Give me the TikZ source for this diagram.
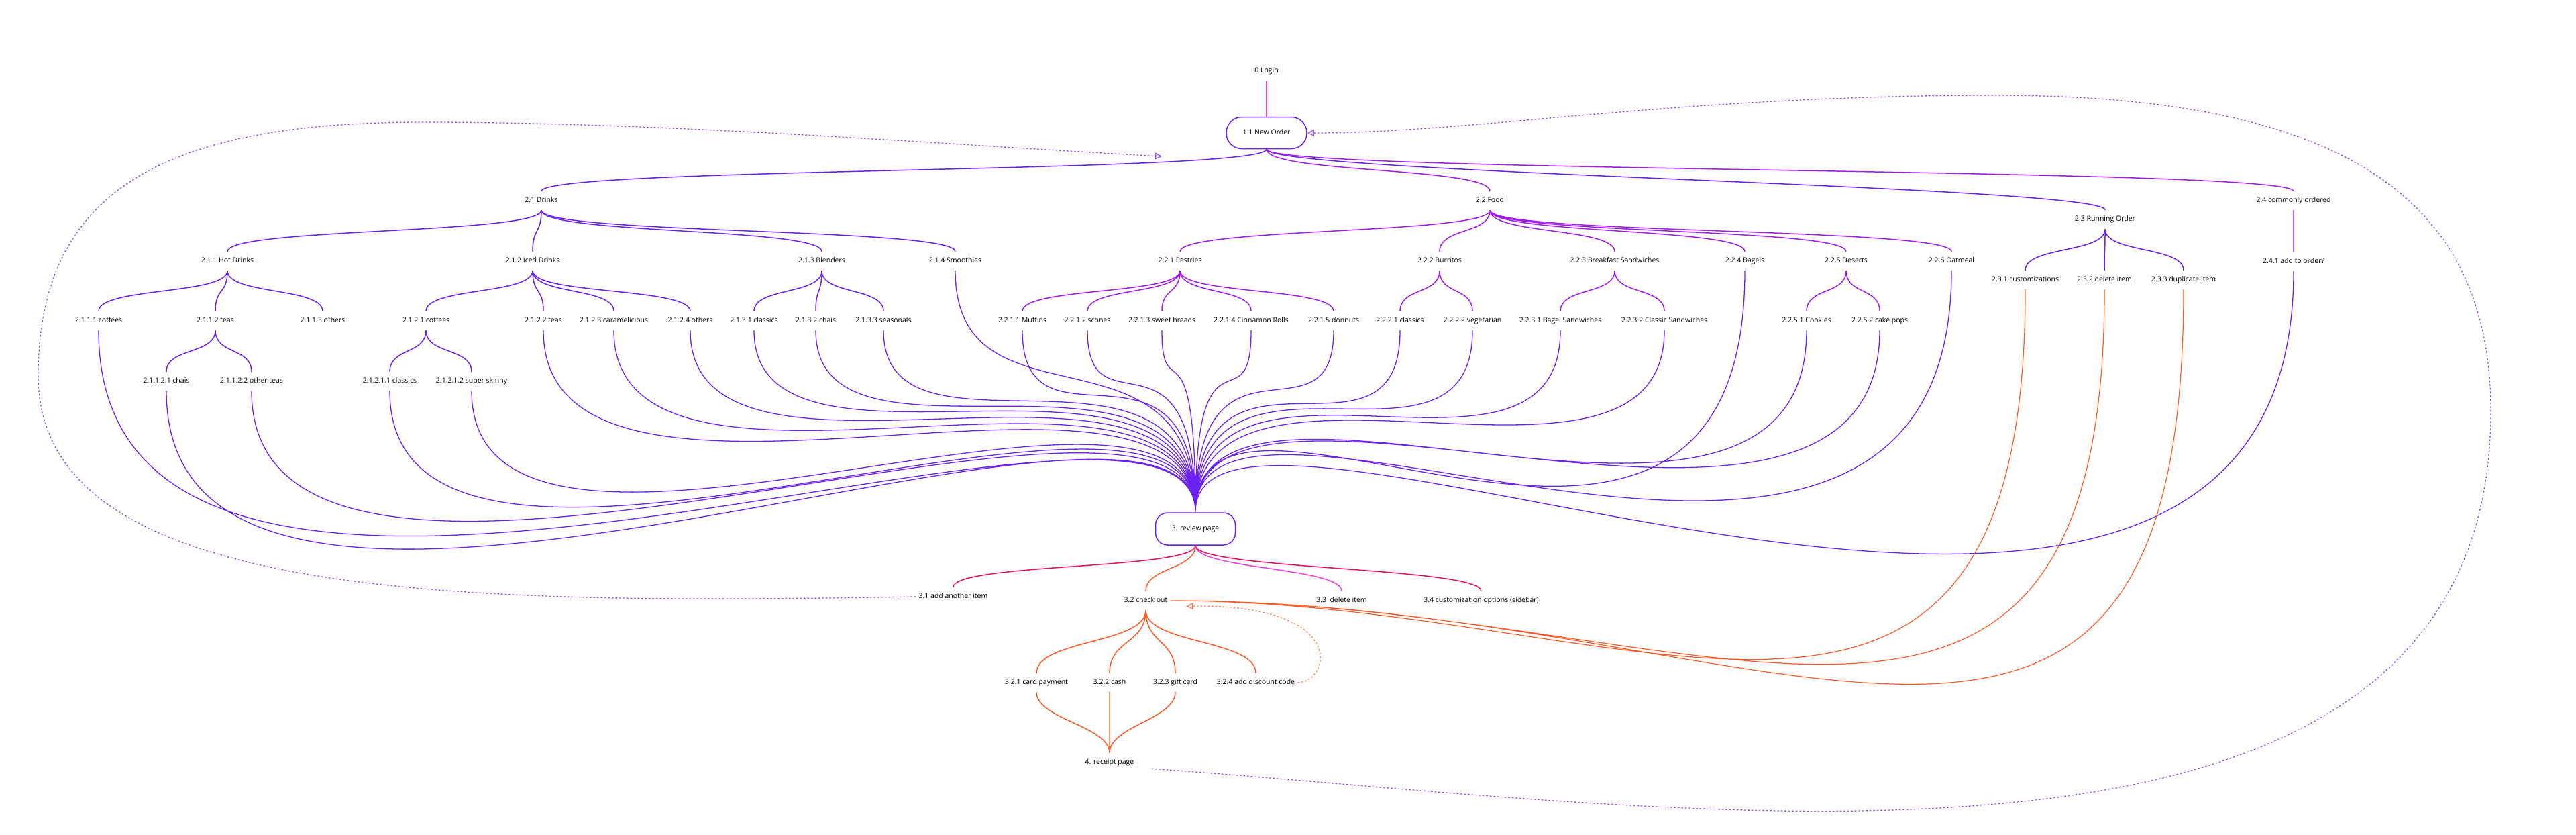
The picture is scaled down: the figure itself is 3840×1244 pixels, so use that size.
\documentclass[tikz,border=0pt]{standalone}
\usepackage{fontspec}
\setmainfont{Open Sans}
\usepackage{tikz}
\usepackage{xcolor}
\usetikzlibrary{arrows.meta}
\definecolor{violetline}{HTML}{6B21F2}
\definecolor{purpleline}{HTML}{A21CF0}
\definecolor{pinkline}{HTML}{EE3FD0}
\definecolor{crimsonline}{HTML}{E8115F}
\definecolor{magentaline}{HTML}{F03FE6}
\definecolor{orangeline}{HTML}{FF5A26}
\definecolor{dashline}{HTML}{8F4DF5}
\definecolor{dashorange}{HTML}{FF7A50}
\tikzset{
    item-label/.style = {font=\fontsize{10.5}{12}\selectfont, text height=7.6pt, text depth=2.4pt, inner ysep=9pt, inner xsep=4pt},
    page-box/.style = {item-label, draw=violetline, line width=1.5pt, rounded corners=23pt, minimum width=120pt, minimum height=47pt},
    tree-edge/.style = {line width=1.5pt, to path={.. controls +(0,#1) and +(0,-#1) .. (\tikztotarget)}},
    tree-edge/.default = 36,
    review-edge/.style = {to path={.. controls +(0,#1) and +(0,-300) .. (\tikztotarget)}},
    order-edge/.style 2 args = {to path={.. controls +(0,#1) and +(#2,0) .. (\tikztotarget)}},
    loop-back/.style = {draw=dashline, line width=1.3pt, dash pattern=on 2.5pt off 3pt, -{Triangle[open,length=10pt,width=10pt]}},
}

\begin{document}
\begin{tikzpicture}[x=1pt, y=-1pt]
\useasboundingbox (0,0) rectangle (3840,1244);

% start
\node[item-label] (login) at (1888,106) {0 Login};
\node[page-box] (neworder) at (1888,198) {1.1 New Order};

% menu
\node[item-label] (drinks) at (807,299) {2.1 Drinks};
\node[item-label] (food) at (2221,299) {2.2 Food};
\node[item-label] (running) at (3138,327) {2.3 Running Order};
\node[item-label] (common) at (3419,299) {2.4 commonly ordered};

\node[item-label] (hotdrinks) at (339,389) {2.1.1 Hot Drinks};
\node[item-label] (iceddrinks) at (794,389) {2.1.2 Iced Drinks};
\node[item-label] (blenders) at (1225,389) {2.1.3 Blenders};
\node[item-label] (smoothies) at (1424,389) {2.1.4 Smoothies};
\node[item-label] (pastries) at (1759,389) {2.2.1 Pastries};
\node[item-label] (burritos) at (2146,389) {2.2.2 Burritos};
\node[item-label] (breakfast) at (2407,389) {2.2.3 Breakfast Sandwiches};
\node[item-label] (bagels) at (2601,389) {2.2.4 Bagels};
\node[item-label] (deserts) at (2752,389) {2.2.5 Deserts};
\node[item-label] (oatmeal) at (2909,389) {2.2.6 Oatmeal};
\node[item-label] (addorder) at (3419,390) {2.4.1 add to order?};

\node[item-label] (custom) at (3019,417) {2.3.1 customizations};
\node[item-label] (rundelete) at (3137,417) {2.3.2 delete item};
\node[item-label] (duplicate) at (3255,417) {2.3.3 duplicate item};

\node[item-label] (hotcoffees) at (147,478) {2.1.1.1 coffees};
\node[item-label] (hotteas) at (321,478) {2.1.1.2 teas};
\node[item-label] (hotothers) at (481,478) {2.1.1.3 others};
\node[item-label] (icedcoffees) at (635,478) {2.1.2.1 coffees};
\node[item-label] (icedteas) at (810,478) {2.1.2.2 teas};
\node[item-label] (caramel) at (915,478) {2.1.2.3 caramelicious};
\node[item-label] (icedothers) at (1029,478) {2.1.2.4 others};
\node[item-label] (blendclassics) at (1124,478) {2.1.3.1 classics};
\node[item-label] (blendchais) at (1216,478) {2.1.3.2 chais};
\node[item-label] (seasonals) at (1317,478) {2.1.3.3 seasonals};
\node[item-label] (muffins) at (1524,478) {2.2.1.1 Muffins};
\node[item-label] (scones) at (1621,478) {2.2.1.2 scones};
\node[item-label] (sweetbreads) at (1732,478) {2.2.1.3 sweet breads};
\node[item-label] (cinnamon) at (1865,478) {2.2.1.4 Cinnamon Rolls};
\node[item-label] (donnuts) at (1988,478) {2.2.1.5 donnuts};
\node[item-label] (burrclassics) at (2087,478) {2.2.2.1 classics};
\node[item-label] (vegetarian) at (2195,478) {2.2.2.2 vegetarian};
\node[item-label] (bagelsand) at (2326,478) {2.2.3.1 Bagel Sandwiches};
\node[item-label] (classicsand) at (2481,478) {2.2.3.2 Classic Sandwiches};
\node[item-label] (cookies) at (2693,478) {2.2.5.1 Cookies};
\node[item-label] (cakepops) at (2802,478) {2.2.5.2 cake pops};

\node[item-label] (teachais) at (248,568) {2.1.1.2.1 chais};
\node[item-label] (otherteas) at (375,568) {2.1.1.2.2 other teas};
\node[item-label] (icedclassics) at (581,568) {2.1.2.1.1 classics};
\node[item-label] (superskinny) at (703,568) {2.1.2.1.2 super skinny};

% review and checkout
\node[page-box, minimum width=119pt, minimum height=48pt, rounded corners=18pt] (review) at (1782,788) {3. review page};
\node[item-label] (addanother) at (1421,889) {3.1 add another item};
\node[item-label] (checkout) at (1708,895) {3.2 check out};
\node[item-label] (deleteitem) at (2000,895) {3.3~ delete item};
\node[item-label] (sidebar) at (2208,895) {3.4 customization options (sidebar)};
\node[item-label] (card) at (1545,1017) {3.2.1 card payment};
\node[item-label] (cash) at (1654,1017) {3.2.2 cash};
\node[item-label] (giftcard) at (1752,1017) {3.2.3 gift card};
\node[item-label] (discount) at (1872,1017) {3.2.4 add discount code};
\node[item-label] (receipt) at (1654,1136) {4. receipt page};

\coordinate (reentry) at (1732,233);
\coordinate (lwest) at (57,560);
\coordinate (ltop) at (631,182);
\coordinate (rright) at (3713,613);
\coordinate (rtop) at (2974,142);

\draw[pinkline, line width=1.5pt] (login.south) -- (neworder.north);

\draw[tree-edge, violetline] (neworder.south) to (drinks.north) (neworder.south) to (running.north);
\draw[tree-edge, purpleline] (neworder.south) to (food.north) (neworder.south) to (common.north);

\draw[tree-edge, violetline] (drinks.south) to (hotdrinks.north) (drinks.south) to (iceddrinks.north)
    (drinks.south) to (blenders.north) (drinks.south) to (smoothies.north)
    (hotdrinks.south) to (hotcoffees.north) (hotdrinks.south) to (hotteas.north) (hotdrinks.south) to (hotothers.north)
    (hotteas.south) to (teachais.north) (hotteas.south) to (otherteas.north)
    (iceddrinks.south) to (icedcoffees.north) (iceddrinks.south) to (icedteas.north)
    (iceddrinks.south) to (caramel.north) (iceddrinks.south) to (icedothers.north)
    (icedcoffees.south) to (icedclassics.north) (icedcoffees.south) to (superskinny.north)
    (blenders.south) to (blendclassics.north) (blenders.south) to (blendchais.north) (blenders.south) to (seasonals.north);

\draw[tree-edge, purpleline] (food.south) to (pastries.north) (food.south) to (burritos.north)
    (food.south) to (breakfast.north) (food.south) to (bagels.north)
    (food.south) to (deserts.north) (food.south) to (oatmeal.north)
    (pastries.south) to (muffins.north) (pastries.south) to (scones.north) (pastries.south) to (sweetbreads.north)
    (pastries.south) to (cinnamon.north) (pastries.south) to (donnuts.north)
    (burritos.south) to (burrclassics.north) (burritos.south) to (vegetarian.north)
    (breakfast.south) to (bagelsand.north) (breakfast.south) to (classicsand.north)
    (deserts.south) to (cookies.north) (deserts.south) to (cakepops.north)
    (common.south) to (addorder.north);

\draw[tree-edge, violetline] (running.south) to (custom.north) (running.south) to (rundelete.north) (running.south) to (duplicate.north);

% everything lands on the review page
\draw[violetline, line width=1.3pt] (hotcoffees.south) to[review-edge=680] (review.north)
    (teachais.south) to[review-edge=574] (review.north)
    (otherteas.south) to[review-edge=480] (review.north)
    (icedclassics.south) to[review-edge=433] (review.north)
    (superskinny.south) to[review-edge=382] (review.north)
    (icedteas.south) to[review-edge=361] (review.north)
    (caramel.south) to[review-edge=324] (review.north)
    (icedothers.south) to[review-edge=290] (review.north)
    (blendclassics.south) to[review-edge=260] (review.north)
    (blendchais.south) to[review-edge=240] (review.north)
    (seasonals.south) to[review-edge=220] (review.north)
    (smoothies.south) to[review-edge=250] (review.north)
    (muffins.south) to[review-edge=200] (review.north)
    (scones.south) to[review-edge=160] (review.north)
    (sweetbreads.south) to[review-edge=120] (review.north)
    (cinnamon.south) to[review-edge=150] (review.north)
    (donnuts.south) to[review-edge=180] (review.north)
    (burrclassics.south) to[review-edge=230] (review.north)
    (vegetarian.south) to[review-edge=250] (review.north)
    (bagelsand.south) to[review-edge=280] (review.north)
    (classicsand.south) to[review-edge=305] (review.north)
    (bagels.south) to[review-edge=650] (review.north)
    (cookies.south) to[review-edge=435] (review.north)
    (cakepops.south) to[review-edge=450] (review.north)
    (oatmeal.south) to[review-edge=700] (review.north)
    (addorder.south) to[review-edge=880] (review.north);

\draw[orangeline, line width=1.2pt] (custom.south) to[order-edge={850}{700}] (checkout.east)
    (rundelete.south) to[order-edge={870}{800}] (checkout.east)
    (duplicate.south) to[order-edge={950}{900}] (checkout.east);

\draw[tree-edge, crimsonline] (review.south) to (addanother.north) (review.south) to (sidebar.north);
\draw[tree-edge, orangeline] (review.south) to (checkout.north);
\draw[tree-edge, magentaline] (review.south) to (deleteitem.north);

\draw[tree-edge=50, orangeline] (checkout.south) to (card.north) (checkout.south) to (cash.north)
    (checkout.south) to (giftcard.north) (checkout.south) to (discount.north);
\draw[tree-edge=40, orangeline] (card.south) to (receipt.north) (cash.south) to (receipt.north) (giftcard.south) to (receipt.north);

% loops back
\draw[loop-back] (addanother.west) .. controls (700,900) and (57,900) .. (lwest)
    .. controls (57,280) and (250,182) .. (ltop)
    .. controls (1000,182) and (1400,215) .. (reentry);
\draw[loop-back] ([xshift=22pt,yshift=5pt]receipt.south east) .. controls (2500,1200) and (3713,1400) .. (rright)
    .. controls (3713,300) and (3500,142) .. (rtop)
    .. controls (2500,142) and (2200,198) .. (neworder.east);
\draw[loop-back, draw=dashorange] (discount.east) .. controls (1985,1015) and (2010,900) .. ([xshift=24pt,yshift=6pt]checkout.south east);
\end{tikzpicture}
\end{document}
